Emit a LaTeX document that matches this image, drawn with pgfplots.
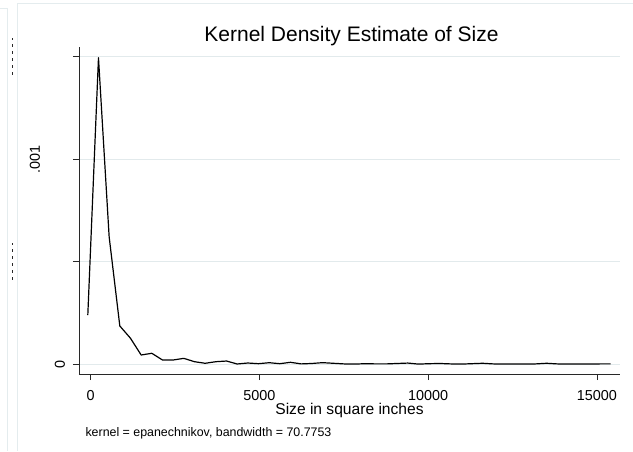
\documentclass[border=0pt]{standalone}
\usepackage{pgfplots}
\pgfplotsset{compat=1.18}
\usepackage{fontspec}
\setmainfont{Liberation Sans}
\definecolor{gridc}{RGB}{226,234,236}
\definecolor{framec}{RGB}{228,236,238}
\definecolor{axc}{RGB}{40,40,40}
\begin{document}
\begin{tikzpicture}[x=1pt,y=1pt]
\path[use as bounding box] (-79,-77) rectangle (554,374);
\draw[framec, line width=0.9pt] (-62,-77) -- (-62,371) -- (554,371);
\draw[framec, line width=0.9pt] (-79,366) -- (-71.5,366) -- (-71.5,-77);
\begin{axis}[
  at={(0,0)}, anchor=south west,
  scale only axis, width=541pt, height=327pt,
  xmin=-341, xmax=15684,
  ymin=-0.0000473, ymax=0.0015473,
  axis x line*=bottom, axis y line*=left,
  axis line style={axc, line width=0.7pt, -},
  xtick={0,5000,10000,15000},
  ytick={0,0.0005,0.001,0.0015},
  yticklabels={,,,},
  scaled ticks=false,
  tick align=outside, major tick length=6pt,
  tick style={axc, line width=0.7pt},
  ymajorgrids, grid style={gridc, line width=0.9pt},
  /pgf/number format/assume math mode=true,
  xticklabel style={font=\fontsize{14.4}{16}\selectfont, yshift=-7pt},
  xticklabel={\pgfmathprintnumber[fixed,1000 sep={}]{\tick}},
  xlabel={Size in square inches},
  xlabel style={font=\fontsize{15.6}{18}\selectfont, at={(axis description cs:0.5,0)}, anchor=center, yshift=-36pt},
  title={Kernel Density Estimate of Size},
  title style={font=\fontsize{21}{23}\selectfont, at={(axis description cs:0.5,1)}, yshift=-8pt, xshift=2pt},
  clip=false,
]
\addplot[black, line width=1.2pt, line join=round] table {
x y
-80 0.000240
236 0.001495
552 0.000622
868 0.000187
1184 0.000127
1500 0.0000454
1816 0.0000537
2132 0.000021
2448 0.000021
2764 0.000029
3080 0.0000127
3396 0.000005
3712 0.0000127
4028 0.000016
4344 0.0000015
4660 0.0000063
4976 0.000003
5292 0.0000078
5608 0.000003
5924 0.0000097
6240 0.000002
6556 0.000004
6872 0.000008
7188 0.000005
7504 0.000002
7820 0.000001
8136 0.000003
8452 0.000002
8768 0.000002
9084 0.000004
9400 0.000006
9716 0.000001
10032 0.000003
10348 0.000004
10664 0.000002
10980 0.000001
11296 0.000003
11612 0.000005
11928 0.000002
12244 0.000001
12560 0.000001
12876 0.000001
13192 0.000002
13508 0.000005
13824 0.000002
14140 0.000001
14456 0.000001
14772 0.000001
15088 0.000002
15404 0.000002
};
\node[rotate=90, font=\fontsize{14.4}{16}\selectfont] at ([xshift=-19pt]axis cs:-341,0) {0};
\node[rotate=90, font=\fontsize{14.4}{16}\selectfont] at ([xshift=-44pt]axis cs:-341,0.001) {.001};
\draw[axc, line width=0.8pt, dash pattern=on 3pt off 4pt] ([xshift=-67pt, yshift=-18pt]axis cs:-341,0.0015) -- ++(0pt,37pt);
\draw[axc, line width=0.8pt, dash pattern=on 3pt off 4pt] ([xshift=-67pt, yshift=-18pt]axis cs:-341,0.0005) -- ++(0pt,37pt);
\node[anchor=west, font=\fontsize{12.4}{14}\selectfont] at ([xshift=3pt, yshift=-59pt]axis description cs:0,0) {kernel = epanechnikov, bandwidth = 70.7753};
\end{axis}
\end{tikzpicture}
\end{document}
